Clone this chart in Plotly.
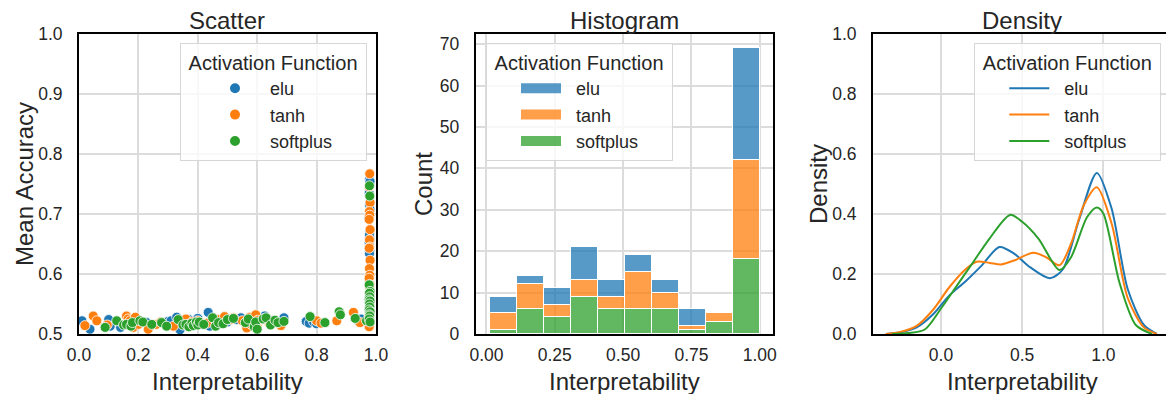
import numpy as np
import plotly.graph_objects as go

# ---------------- data ----------------
groups = ["elu", "tanh", "softplus"]
colors = {"elu": "#1f77b4", "tanh": "#ff7f0e", "softplus": "#2ca02c"}

# Scatter: interpretability vs mean accuracy, per activation function
elu_interp = [0.01, 0.037, 0.10, 0.105, 0.14, 0.195, 0.228, 0.24, 0.285, 0.30,
              0.31, 0.329, 0.335, 0.34, 0.36, 0.37, 0.385, 0.40,
              0.435, 0.44, 0.47, 0.50, 0.53, 0.545, 0.58, 0.60,
              0.625, 0.65, 0.69, 0.765, 0.775, 0.79, 0.80, 0.94, 0.95,
              0.978, 0.98, 0.977, 0.979, 0.978, 0.98, 0.976, 0.979, 0.978, 0.98,
              0.977, 0.979, 0.978, 0.98, 0.976, 0.979, 0.978, 0.98, 0.977, 0.979,
              0.978, 0.98, 0.976, 0.979, 0.978]
elu_acc = [0.522, 0.508, 0.524, 0.513, 0.511, 0.517, 0.519, 0.514, 0.518, 0.521,
           0.522, 0.528, 0.515, 0.507, 0.520, 0.524, 0.518, 0.526,
           0.536, 0.513, 0.522, 0.520, 0.524, 0.527, 0.520, 0.522,
           0.530, 0.522, 0.527, 0.521, 0.518, 0.520, 0.517, 0.522, 0.525,
           0.757, 0.754, 0.735, 0.729, 0.715, 0.707, 0.693, 0.671, 0.665, 0.657,
           0.652, 0.639, 0.634, 0.565, 0.557, 0.550, 0.546, 0.545, 0.540, 0.535,
           0.530, 0.528, 0.525, 0.520, 0.518]

tanh_interp = [0.02, 0.048, 0.06, 0.095, 0.16, 0.165, 0.172, 0.183, 0.19, 0.20,
               0.233, 0.26, 0.275, 0.318, 0.36, 0.38, 0.40, 0.43, 0.47, 0.49,
               0.51, 0.52, 0.55, 0.565, 0.575, 0.58, 0.595, 0.60, 0.602,
               0.62, 0.64, 0.66, 0.68, 0.80, 0.815, 0.868, 0.924, 0.946,
               0.979, 0.977, 0.98, 0.978, 0.979, 0.977, 0.98, 0.978, 0.979, 0.977,
               0.98, 0.978, 0.979, 0.977, 0.98, 0.978, 0.979, 0.977, 0.98, 0.978,
               0.979, 0.977]
tanh_acc = [0.514, 0.530, 0.522, 0.515, 0.530, 0.525, 0.522, 0.511, 0.528, 0.516,
            0.508, 0.516, 0.520, 0.513, 0.525, 0.520, 0.522, 0.518, 0.524, 0.529,
            0.524, 0.527, 0.522, 0.510, 0.528, 0.516, 0.532, 0.512, 0.523,
            0.525, 0.518, 0.521, 0.514, 0.522, 0.518, 0.522, 0.536, 0.519,
            0.767, 0.745, 0.719, 0.704, 0.698, 0.691, 0.674, 0.657, 0.645, 0.643,
            0.623, 0.609, 0.598, 0.593, 0.582, 0.579, 0.560, 0.532, 0.523, 0.520,
            0.515, 0.512]

softplus_interp = [0.088, 0.127, 0.15, 0.16, 0.175, 0.18, 0.205,
                   0.215, 0.245, 0.278, 0.295,
                   0.334, 0.35, 0.36, 0.37, 0.38, 0.385, 0.395, 0.40, 0.405,
                   0.42, 0.45, 0.46, 0.47, 0.485, 0.50,
                   0.52, 0.56, 0.57, 0.59, 0.595, 0.60,
                   0.62, 0.63, 0.645, 0.66, 0.67, 0.69,
                   0.778, 0.828, 0.876, 0.88, 0.93, 0.968,
                   0.978, 0.979, 0.977, 0.98, 0.978, 0.979, 0.977, 0.98,
                   0.978, 0.979, 0.977, 0.98, 0.978, 0.979, 0.977, 0.98]
softplus_acc = [0.511, 0.522, 0.515, 0.516, 0.513, 0.519, 0.522,
                0.520, 0.516, 0.519, 0.513,
                0.524, 0.515, 0.516, 0.512, 0.518, 0.514, 0.520, 0.515, 0.520,
                0.516, 0.527, 0.513, 0.519, 0.517, 0.524,
                0.526, 0.519, 0.525, 0.512, 0.520, 0.508,
                0.525, 0.527, 0.515, 0.523, 0.519, 0.521,
                0.529, 0.519, 0.537, 0.532, 0.526, 0.522,
                0.747, 0.730, 0.582, 0.571, 0.568, 0.562, 0.557, 0.555,
                0.550, 0.545, 0.540, 0.537, 0.532, 0.530, 0.525, 0.520]

# Histogram: bin edges and stacked counts per activation function
hist_edges = [0.010, 0.109, 0.208, 0.307, 0.406, 0.505, 0.604, 0.703, 0.802, 0.901, 1.000]
elu_counts = [4, 2, 4, 8, 4, 4, 3, 4, 0, 27]
tanh_counts = [4, 6, 3, 4, 3, 9, 4, 1, 2, 24]
softplus_counts = [1, 6, 4, 9, 6, 6, 6, 1, 3, 18]

# Kernel density estimates of interpretability
elu_kde_x = [-0.34, -0.25, -0.15, -0.05, 0.05, 0.15, 0.25, 0.36, 0.45, 0.55,
             0.67, 0.75, 0.85, 0.96, 1.05, 1.15, 1.25, 1.33]
elu_kde_y = [0.0, 0.006, 0.022, 0.065, 0.128, 0.175, 0.228, 0.290, 0.268, 0.222,
             0.186, 0.215, 0.380, 0.537, 0.420, 0.150, 0.030, 0.0]
tanh_kde_x = [-0.34, -0.25, -0.15, -0.05, 0.05, 0.15, 0.22, 0.30, 0.37, 0.45,
              0.57, 0.65, 0.73, 0.80, 0.88, 0.96, 1.05, 1.15, 1.25, 1.33]
tanh_kde_y = [0.0, 0.007, 0.027, 0.080, 0.155, 0.215, 0.241, 0.237, 0.232, 0.245,
              0.271, 0.255, 0.229, 0.300, 0.430, 0.489, 0.370, 0.120, 0.022, 0.0]
softplus_kde_x = [-0.30, -0.20, -0.10, 0.0, 0.10, 0.20, 0.30, 0.425, 0.50, 0.60,
                  0.73, 0.80, 0.90, 0.96, 1.00, 1.10, 1.20, 1.30]
softplus_kde_y = [0.0, 0.003, 0.015, 0.085, 0.163, 0.241, 0.319, 0.397, 0.374, 0.318,
                  0.213, 0.255, 0.390, 0.422, 0.402, 0.170, 0.030, 0.0]

scatter_data = {"elu": (elu_interp, elu_acc), "tanh": (tanh_interp, tanh_acc),
                "softplus": (softplus_interp, softplus_acc)}
hist_counts = {"elu": elu_counts, "tanh": tanh_counts, "softplus": softplus_counts}
kde_data = {"elu": (elu_kde_x, elu_kde_y), "tanh": (tanh_kde_x, tanh_kde_y),
            "softplus": (softplus_kde_x, softplus_kde_y)}

# ---------------- styling ----------------
W, H = 1166, 394
FONT = "Liberation Sans, Arial, sans-serif"
TXT = "#262626"
NB = "\u00a0"


def rgba(hex_color, a):
    h = hex_color.lstrip("#")
    r, g, b = int(h[0:2], 16), int(h[2:4], 16), int(h[4:6], 16)
    return f"rgba({r},{g},{b},{a})"


def fx(p):
    return p / W


def fy(p):
    return 1 - p / H


fig = go.Figure()

# Scatter panel
for g in groups:
    xs, ys = scatter_data[g]
    fig.add_trace(go.Scatter(
        x=xs, y=ys, mode="markers", name=NB * 2 + g, legend="legend", legendgroup="s_" + g,
        marker=dict(size=10, color=colors[g], line=dict(color="white", width=0.8)),
        xaxis="x", yaxis="y"))

# Histogram panel (softplus stacked at the bottom, elu on top)
edges = np.array(hist_edges)
centers = (edges[:-1] + edges[1:]) / 2
widths = np.diff(edges)
for g in ["softplus", "tanh", "elu"]:
    fig.add_trace(go.Bar(
        x=centers, y=hist_counts[g], width=widths, name=g, showlegend=False,
        marker=dict(color=rgba(colors[g], 0.75), line=dict(color="white", width=1)),
        xaxis="x2", yaxis="y2"))
for g in groups:
    fig.add_trace(go.Scatter(
        x=[None], y=[None], mode="lines", name=NB * 2 + g, legend="legend2", legendgroup="h_" + g,
        line=dict(color=rgba(colors[g], 0.75), width=11),
        xaxis="x2", yaxis="y2"))

# Density panel
for g in groups:
    xs, ys = kde_data[g]
    fig.add_trace(go.Scatter(
        x=xs, y=ys, mode="lines", name=NB * 2 + g, legend="legend3", legendgroup="d_" + g,
        line=dict(color=colors[g], width=2, shape="spline", smoothing=0.8),
        xaxis="x3", yaxis="y3"))

axis_common = dict(
    showline=True, linecolor="black", linewidth=2, mirror=True,
    showgrid=True, gridcolor="#dcdcdc", gridwidth=1.5, zeroline=False,
    ticks="", tickfont=dict(size=17.5, color=TXT, family=FONT),
)
y_dom = [fy(334), fy(34)]
XS, YS = 4, 11

fig.update_layout(
    xaxis=dict(axis_common, domain=[fx(79), fx(376)], range=[0, 1], tickvals=[0, 0.2, 0.4, 0.6, 0.8, 1.0],
               tickformat=".1f", anchor="y", ticklabelstandoff=XS),
    yaxis=dict(axis_common, domain=y_dom, range=[0.5, 1.0], tickvals=[0.5, 0.6, 0.7, 0.8, 0.9, 1.0],
               tickformat=".1f", anchor="x", ticklabelstandoff=YS),
    xaxis2=dict(axis_common, domain=[fx(475.7), fx(773.3)], range=[-0.0395, 1.0495],
                tickvals=[0, 0.25, 0.5, 0.75, 1.0], tickformat=".2f", anchor="y2", ticklabelstandoff=XS),
    yaxis2=dict(axis_common, domain=y_dom, range=[0, 72.45], tickvals=list(range(0, 71, 10)),
                anchor="x2", ticklabelstandoff=YS),
    xaxis3=dict(axis_common, domain=[fx(873), 1.0], range=[-0.419, 1.386],
                tickvals=[0, 0.5, 1.0], tickformat=".1f", anchor="y3", ticklabelstandoff=XS),
    yaxis3=dict(axis_common, domain=y_dom, range=[0, 1.0], tickvals=[0, 0.2, 0.4, 0.6, 0.8, 1.0],
                tickformat=".1f", anchor="x3", ticklabelstandoff=YS, mirror=False),
    barmode="stack", bargap=0,
    width=W, height=H, margin=dict(l=0, r=0, t=0, b=0, autoexpand=False),
    paper_bgcolor="white", plot_bgcolor="white",
    font=dict(family=FONT, color=TXT),
)

legend_common = dict(
    xanchor="left", yanchor="top", bgcolor="rgba(255,255,255,0.8)",
    bordercolor="#d6d6d6", borderwidth=1,
    font=dict(size=18, color=TXT, family=FONT),
    title=dict(text=NB + "Activation Function" + NB, font=dict(size=20, color=TXT, family=FONT)),
    indentation=29, itemwidth=40, tracegroupgap=0,
)
fig.update_layout(
    legend=dict(legend_common, x=fx(180), y=fy(43), itemsizing="constant"),
    legend2=dict(legend_common, x=fx(486), y=fy(43)),
    legend3=dict(legend_common, x=fx(974.3), y=fy(43)),
)

annotations = []
for text, cx in [("Scatter", 227.5), ("Histogram", 624.5), ("Density", 1022)]:
    annotations.append(dict(text=text, x=fx(cx), y=fy(20), xref="paper", yref="paper",
                            showarrow=False, xanchor="center", yanchor="middle",
                            font=dict(size=24, color=TXT, family=FONT)))
for cx in [227.5, 624.5, 1022]:
    annotations.append(dict(text="Interpretability", x=fx(cx), y=fy(381), xref="paper", yref="paper",
                            showarrow=False, xanchor="center", yanchor="middle",
                            font=dict(size=24, color=TXT, family=FONT)))
for text, cx in [("Mean Accuracy", 24), ("Count", 423), ("Density", 818)]:
    annotations.append(dict(text=text, x=fx(cx), y=fy(184), xref="paper", yref="paper",
                            showarrow=False, xanchor="center", yanchor="middle", textangle=-90,
                            font=dict(size=24, color=TXT, family=FONT)))
fig.update_layout(annotations=annotations)

fig.write_html("out.html")
